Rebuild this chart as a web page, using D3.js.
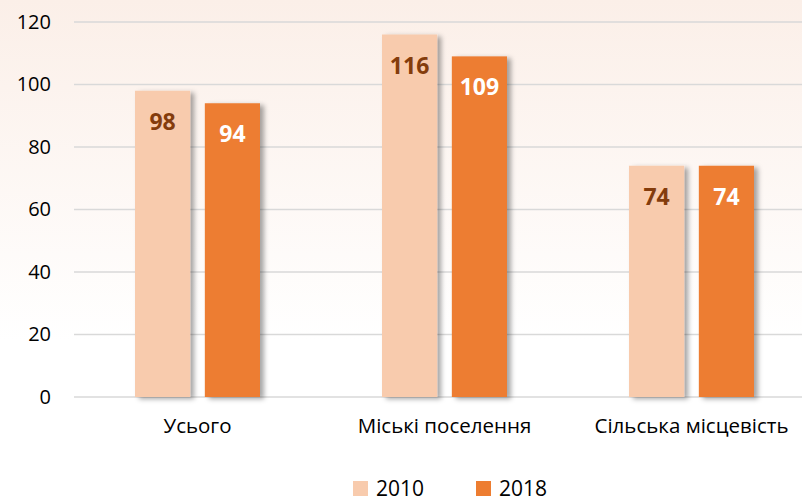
<!DOCTYPE html>
<html>
<head>
<meta charset="utf-8">
<script src="https://cdn.jsdelivr.net/npm/d3@7"></script>
<style>
  html, body { margin: 0; padding: 0; background: #fff; }
  svg { display: block; }
  text { font-family: "Open Sans", sans-serif; }
</style>
</head>
<body>
<div id="chart"></div>
<script>
// data
var categories = ["Усього", "Міські поселення", "Сільська місцевість"];
var years = ["2010", "2018"];
var values2010 = [98, 116, 74];
var values2018 = [94, 109, 74];
var yTicks = [0, 20, 40, 60, 80, 100, 120];

var colors = { "2010": "#F8CBAD", "2018": "#ED7D31" };
var labelColors = { "2010": "#843C0C", "2018": "#FFFFFF" };

var W = 802, H = 501;
var margin = {top: 22, left: 74, right: -13, bottom: 104};

var svg = d3.select("#chart").append("svg")
    .attr("width", W)
    .attr("height", H);

var defs = svg.append("defs");

// soft peach background fading to white
var grad = defs.append("linearGradient")
    .attr("id", "bg")
    .attr("x1", 0).attr("y1", 0).attr("x2", 0).attr("y2", 1);
grad.append("stop").attr("offset", "0%").attr("stop-color", "#FBEFE8");
grad.append("stop").attr("offset", "68%").attr("stop-color", "#FFFFFF");
grad.append("stop").attr("offset", "100%").attr("stop-color", "#FFFFFF");

svg.append("rect")
    .attr("width", W).attr("height", H)
    .attr("fill", "url(#bg)");

// drop shadow for bars
var f = defs.append("filter")
    .attr("id", "shadow")
    .attr("x", "-20%").attr("y", "-10%")
    .attr("width", "150%").attr("height", "130%");
f.append("feDropShadow")
    .attr("dx", 4).attr("dy", 2)
    .attr("stdDeviation", 2.5)
    .attr("flood-color", "#000")
    .attr("flood-opacity", 0.35);

var x0 = d3.scaleBand()
    .domain(categories)
    .range([margin.left, W - margin.right])
    .paddingInner(0)
    .paddingOuter(0);

var x1 = d3.scaleBand()
    .domain(years)
    .range([0, 125])
    .paddingInner(0.21);

var y = d3.scaleLinear()
    .domain([0, 120])
    .range([H - margin.bottom, margin.top]);

// gridlines
svg.append("g")
  .selectAll("line")
  .data(yTicks)
  .join("line")
    .attr("x1", margin.left)
    .attr("x2", W)
    .attr("y1", function(d) { return y(d); })
    .attr("y2", function(d) { return y(d); })
    .attr("stroke", "#D9D9D9")
    .attr("stroke-width", 1.5);

// y axis labels
var yAxis = svg.append("g")
    .attr("transform", "translate(" + margin.left + ",0)")
    .call(d3.axisLeft(y).tickValues(yTicks).tickSize(0).tickPadding(23));
yAxis.select(".domain").remove();
yAxis.selectAll("text")
    .attr("font-size", 20)
    .attr("font-family", "Open Sans, sans-serif")
    .attr("fill", "#000");

// x axis labels
var xAxis = svg.append("g")
    .attr("transform", "translate(0," + (H - margin.bottom) + ")")
    .call(d3.axisBottom(x0).tickSize(0).tickPadding(21));
xAxis.select(".domain").remove();
xAxis.selectAll("text")
    .attr("font-size", 20.5)
    .attr("font-family", "Open Sans, sans-serif")
    .attr("fill", "#000");

// bars
var rows = categories.map(function(c, i) {
  return { cat: c, vals: [
    { year: "2010", value: values2010[i] },
    { year: "2018", value: values2018[i] }
  ]};
});

var groups = svg.append("g")
  .selectAll("g")
  .data(rows)
  .join("g")
    .attr("transform", function(d) {
      return "translate(" + (x0(d.cat) + x0.bandwidth() / 2 - 62.5) + ",0)";
    });

groups.selectAll("rect")
  .data(function(d) { return d.vals; })
  .join("rect")
    .attr("x", function(d) { return x1(d.year); })
    .attr("y", function(d) { return y(d.value); })
    .attr("width", x1.bandwidth())
    .attr("height", function(d) { return y(0) - y(d.value); })
    .attr("fill", function(d) { return colors[d.year]; })
    .attr("filter", "url(#shadow)");

groups.selectAll("text")
  .data(function(d) { return d.vals; })
  .join("text")
    .attr("x", function(d) { return x1(d.year) + x1.bandwidth() / 2; })
    .attr("y", function(d) { return y(d.value) + 39; })
    .attr("text-anchor", "middle")
    .attr("font-size", 23)
    .attr("font-weight", "bold")
    .attr("fill", function(d) { return labelColors[d.year]; })
    .text(function(d) { return d.value; });

// legend
var legend = svg.append("g")
  .selectAll("g")
  .data(years)
  .join("g")
    .attr("transform", function(d, i) { return "translate(" + (353 + i * 123) + ",481)"; });

legend.append("rect")
    .attr("width", 15).attr("height", 15)
    .attr("fill", function(d) { return colors[d]; });

legend.append("text")
    .attr("x", 23)
    .attr("y", 15)
    .attr("font-size", 21)
    .attr("fill", "#000")
    .text(function(d) { return d; });
</script>
</body>
</html>
